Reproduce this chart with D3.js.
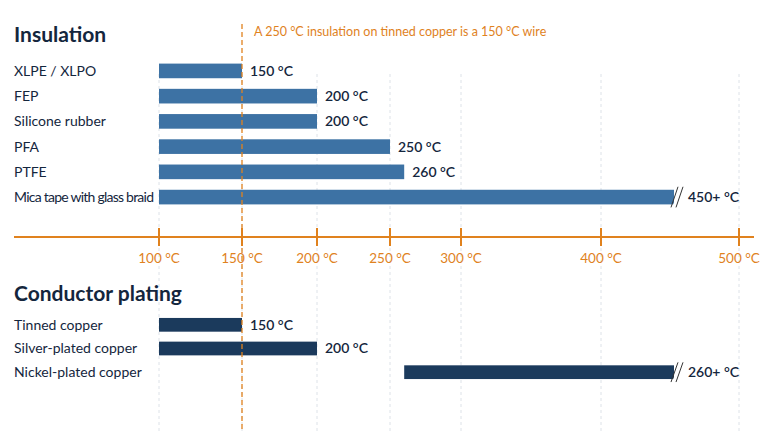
<!DOCTYPE html>
<html><head><meta charset="utf-8">
<script src="https://cdn.jsdelivr.net/npm/d3@7"></script>
<style>body{margin:0;background:#fff}text{font-family:Lato,"Open Sans",sans-serif}</style>
</head><body><svg id="c" width="768" height="432"></svg>
<script>
const insulation = ["XLPE / XLPO","FEP","Silicone rubber","PFA","PTFE","Mica tape with glass braid"];
const insulationMax = [150,200,200,250,260,450];
const insulationLabels = ["150 °C","200 °C","200 °C","250 °C","260 °C","450+ °C"];
const insulationOpen = [false,false,false,false,false,true];
const plating = ["Tinned copper","Silver-plated copper","Nickel-plated copper"];
const platingStart = [100,100,260];
const platingMax = [150,200,450];
const platingLabels = ["150 °C","200 °C","260+ °C"];
const platingOpen = [false,false,true];
const ticks = [100,150,200,250,300,400,500];
const limitLine = 150;

const svg = d3.select('#c');
const orange = '#e0821e';
// piecewise axis as drawn in the original
const x = d3.scaleLinear().domain(ticks).range([159,242,317,390,461,601,739]);

// grid
svg.selectAll('.g').data(ticks).enter().append('line')
  .attr('x1',d=>x(d)).attr('x2',d=>x(d)).attr('y1',74).attr('y2',432)
  .attr('stroke','#dde2e8').attr('stroke-dasharray','3,3');

function group(names, starts, ends, labels, open, y0, color, title, ty){
  svg.append('text').attr('x',14).attr('y',ty).attr('font-size',21).attr('font-weight',700)
    .attr('fill','#14263d').text(title);
  const y = d3.scaleBand().domain(names).range([y0, y0+names.length*27]).padding(0.42);
  names.forEach((n,i)=>{
    const yy = y(n), h = y.bandwidth(), x0 = x(starts[i]), x1 = x(ends[i]) + (open[i]?4:0);
    svg.append('text').attr('x',14).attr('y',yy+h/2).attr('dy','0.35em').attr('font-size',14)
      .attr('fill','#14263d').attr('textLength', n.length>22?140:null).text(n);
    svg.append('rect').attr('x',x0).attr('y',yy).attr('width',x1-x0).attr('height',h).attr('fill',color);
    let lx = x1 + 8;
    if(open[i]){
      svg.append('polygon').attr('points',`${x1-2},${yy+h+3} ${x1+6},${yy-3} ${x1+10},${yy-3} ${x1+2},${yy+h+3}`)
        .attr('fill','#fff');
      [0,5].forEach(o=>svg.append('line').attr('x1',x1-3+o).attr('y1',yy+h+3).attr('x2',x1+4+o).attr('y2',yy-3)
        .attr('stroke','#333').attr('stroke-width',1));
      lx = x1 + 14;
    }
    svg.append('text').attr('x',lx).attr('y',yy+h/2).attr('dy','0.35em').attr('font-size',14)
      .attr('font-weight',600).attr('fill','#14263d').text(labels[i]);
  });
}
group(insulation, insulation.map(()=>100), insulationMax, insulationLabels, insulationOpen, 53, '#3d72a4', 'Insulation', 42);
group(plating, platingStart, platingMax, platingLabels, platingOpen, 308, '#1b3a5c', 'Conductor plating', 301);

// axis
const ax = svg.append('g').attr('transform','translate(0,237)');
ax.append('line').attr('x1',14).attr('x2',754).attr('stroke',orange).attr('stroke-width',2);
ax.selectAll('.t').data(ticks).enter().append('line').attr('x1',d=>x(d)).attr('x2',d=>x(d))
  .attr('y1',-9).attr('y2',9).attr('stroke',orange).attr('stroke-width',2);
ax.selectAll('.l').data(ticks).enter().append('text').attr('x',d=>x(d)).attr('y',26)
  .attr('text-anchor','middle').attr('font-size',13.5).attr('fill',orange).text(d=>d+' °C');

// limit line
svg.append('line').attr('x1',x(limitLine)).attr('x2',x(limitLine)).attr('y1',24).attr('y2',432)
  .attr('stroke',orange).attr('stroke-width',1.3).attr('stroke-dasharray','5,3');
svg.append('text').attr('x',x(limitLine)+12).attr('y',36).attr('font-size',12.5).attr('fill',orange)
  .text('A 250 °C insulation on tinned copper is a 150 °C wire');
</script></body></html>
